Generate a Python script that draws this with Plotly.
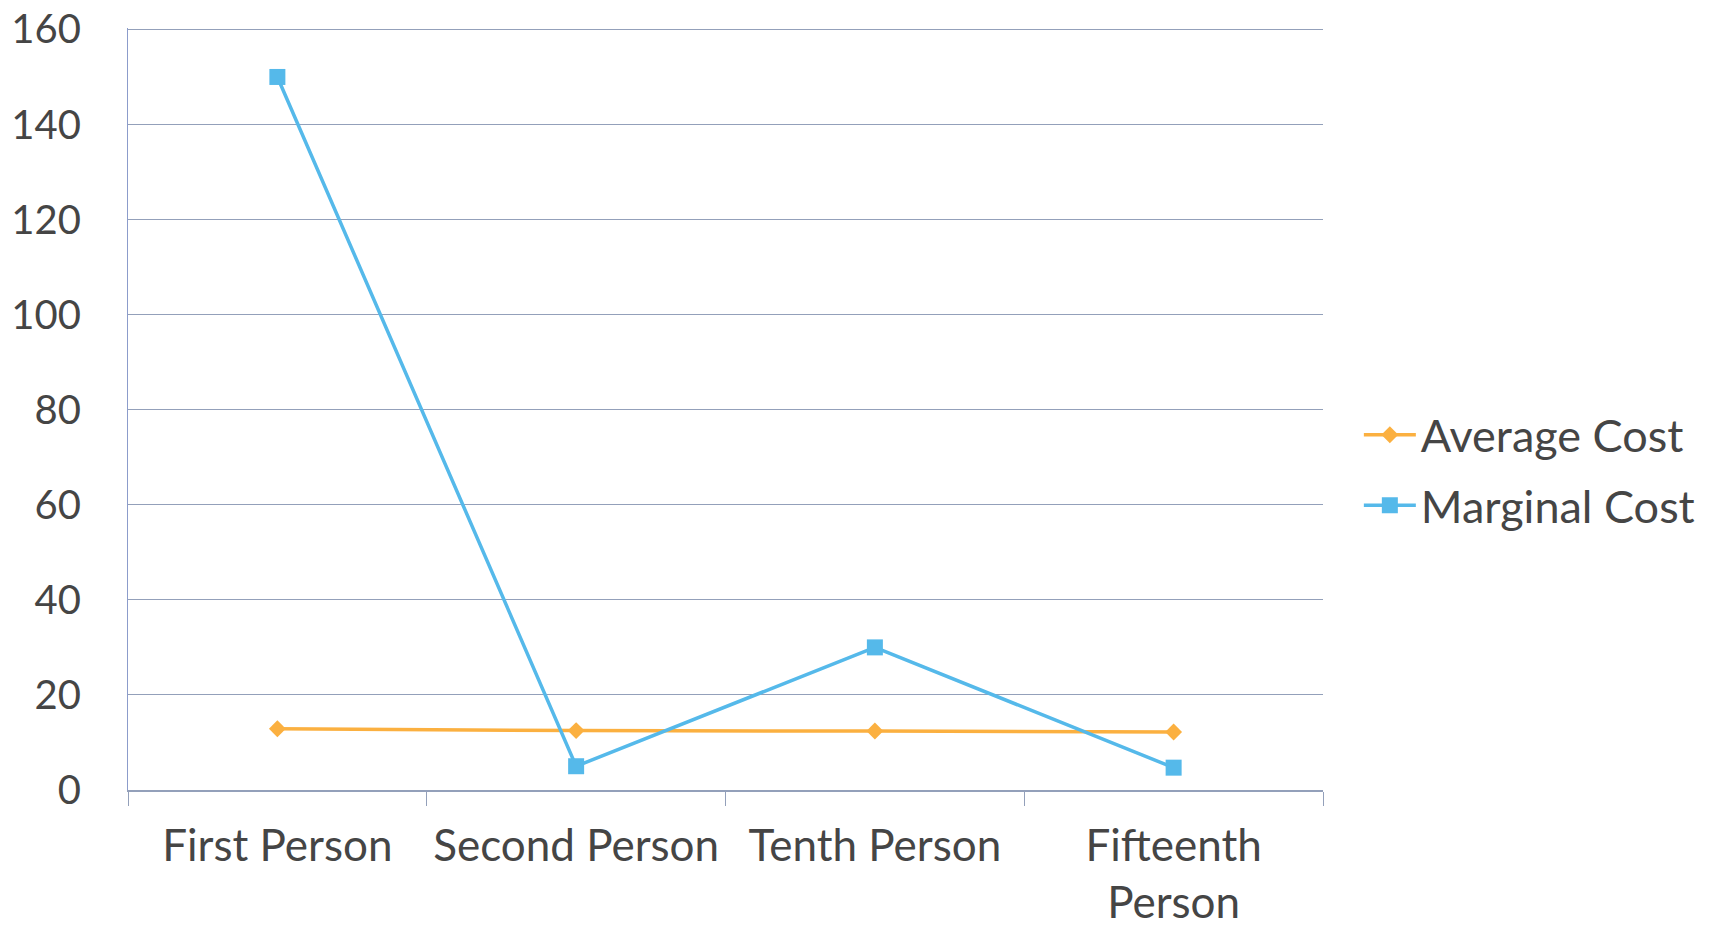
import plotly.graph_objects as go

categories = ["First Person", "Second Person", "Tenth Person", "Fifteenth<br>Person"]
average_cost = [12.9, 12.5, 12.4, 12.2]
marginal_cost = [150, 5, 30, 4.7]
y_ticks = [0, 20, 40, 60, 80, 100, 120, 140, 160]

ORANGE = "#FBB040"
BLUE = "#55B9EA"
GRID = "#93A0BA"
TEXT = "#454545"
FONT = "Lato"

fig = go.Figure()
fig.add_trace(go.Scatter(
    x=categories, y=average_cost, name="Average Cost", mode="lines+markers",
    line=dict(color=ORANGE, width=3.5),
    marker=dict(symbol="diamond", size=13, color=ORANGE),
    legendgroup="a",
))
fig.add_trace(go.Scatter(
    x=categories, y=marginal_cost, name="Marginal Cost", mode="lines+markers",
    line=dict(color=BLUE, width=3.5),
    marker=dict(symbol="square", size=16, color=BLUE),
    legendgroup="m",
))

fig.update_layout(
    width=1715, height=930,
    margin=dict(l=128, r=392, t=28, b=140),
    paper_bgcolor="white", plot_bgcolor="white",
    font=dict(family=FONT, color=TEXT, size=40),
    showlegend=True,
    legend=dict(
        x=1.03, y=0.42, xanchor="left", yanchor="middle",
        font=dict(family=FONT, size=45, color=TEXT),
        itemwidth=52, tracegroupgap=9, bgcolor="rgba(0,0,0,0)",
    ),
    xaxis=dict(
        type="category", tickson="boundaries", ticks="outside", ticklen=14,
        tickcolor=GRID, showline=True, linecolor=GRID, linewidth=1.5,
        showgrid=False, automargin=False, ticklabelstandoff=16,
        tickfont=dict(family=FONT, size=44, color=TEXT),
        range=[-0.5, 3.5],
    ),
    yaxis=dict(
        range=[0, 160.3], tickvals=y_ticks, showgrid=True, gridcolor=GRID,
        gridwidth=1.2, zeroline=False, showline=True, linecolor="#8C9CCB",
        linewidth=1.2, ticks="", ticklabelstandoff=38, automargin=False,
        tickfont=dict(family=FONT, size=40, color=TEXT),
    ),
)

fig.write_html("out.html")
